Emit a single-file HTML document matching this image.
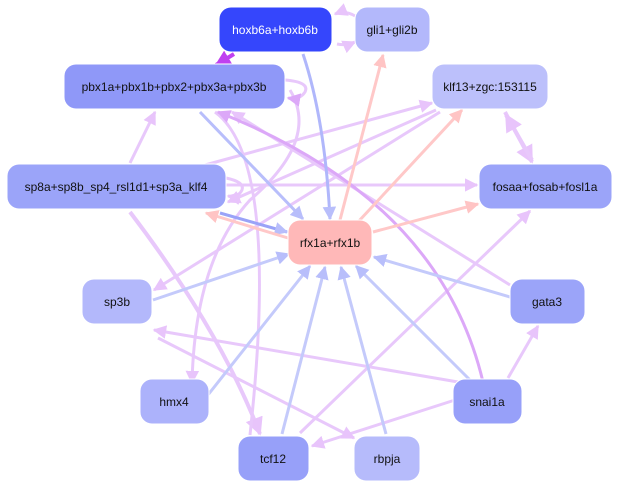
<!DOCTYPE html>
<html><head><meta charset="utf-8"><style>
html,body{margin:0;padding:0;background:#fff;width:619px;height:489px;overflow:hidden}
svg{display:block}
text{font-family:"Liberation Sans",sans-serif;font-size:12px;text-anchor:middle;dominant-baseline:central;fill:#111}
</style></head><body>
<svg width="619" height="489" viewBox="0 0 619 489" xmlns="http://www.w3.org/2000/svg">
<defs>
<marker id="al" viewBox="0 0 10 10" refX="9" refY="5" markerWidth="4.5" markerHeight="4.5" orient="auto"><path d="M0,0L10,5L0,10z" fill="#e8c4fb"/></marker>
<marker id="ab" viewBox="0 0 10 10" refX="9" refY="5" markerWidth="4.5" markerHeight="4.5" orient="auto"><path d="M0,0L10,5L0,10z" fill="#b8befb"/></marker>
<marker id="as" viewBox="0 0 10 10" refX="9" refY="5" markerWidth="4.5" markerHeight="4.5" orient="auto"><path d="M0,0L10,5L0,10z" fill="#ffc4c4"/></marker>
<marker id="ap" viewBox="0 0 10 10" refX="9" refY="5" markerWidth="4" markerHeight="4" orient="auto"><path d="M0,0L10,5L0,10z" fill="#c040f0"/></marker>
<marker id="am" viewBox="0 0 10 10" refX="9" refY="5" markerWidth="4.5" markerHeight="4.5" orient="auto"><path d="M0,0L10,5L0,10z" fill="#dca8f8"/></marker>
</defs>
<g fill="none" stroke-width="3">
<g stroke="#e8c8fb">
<path d="M355,16 Q345,10 335,14" marker-end="url(#al)"/>
<path d="M337,44 Q346,46 355,42" marker-end="url(#al)"/>
<path d="M130,163 L155,112" marker-end="url(#al)"/>
<path d="M205,165 L432,103" marker-end="url(#al)"/>
<path d="M226,185 L477,185" marker-end="url(#al)"/>
<path d="M226,178 Q245,182 242,190 Q238,198 228,196" marker-end="url(#al)"/>
<path d="M505,112 L532,162" stroke-width="4" marker-end="url(#al)"/>
<path d="M532,160 L506,115" stroke-width="4" marker-end="url(#al)"/>
<path d="M440,112 L154,290" marker-end="url(#al)"/>
<path d="M436,110 L228,202" marker-end="url(#al)"/>
<path d="M510,285 L232,112" marker-end="url(#al)"/>
<path d="M508,378 L538,326" marker-end="url(#al)"/>
<path d="M458,382 L154,330" marker-end="url(#al)"/>
<path d="M455,400 L312,446" marker-end="url(#al)"/>
<path d="M300,433 L530,211" marker-end="url(#al)"/>
<path d="M130,212 Q220,330 260,434" stroke-width="4" marker-end="url(#al)"/>
<path d="M158,338 Q260,390 354,438" marker-end="url(#al)"/>
<path d="M290,90 Q320,140 250,200 Q195,260 192,383" marker-end="url(#al)"/>
<path d="M215,112 Q280,160 250,435"/>
<path d="M285,80 Q310,82 305,92 Q300,100 288,98" marker-end="url(#am)"/>
</g>
<path d="M483,382 Q440,200 218,112" stroke="#dca8f8" marker-end="url(#am)"/>
<g stroke="#c4cafb">
<path d="M200,112 L303,219" stroke="#b8befb" marker-end="url(#ab)"/>
<path d="M303,54 Q325,120 330,219" stroke="#b0b7fb" marker-end="url(#ab)"/>
<path d="M153,300 L289,254" marker-end="url(#ab)"/>
<path d="M510,297 L374,257" marker-end="url(#ab)"/>
<path d="M470,380 L356,266" marker-end="url(#ab)"/>
<path d="M282,434 L325,267" marker-end="url(#ab)"/>
<path d="M386,434 L341,267" marker-end="url(#ab)"/>
<path d="M200,405 L310,266" marker-end="url(#ab)"/>
<path d="M220,213 L287,232" stroke="#9aa3f8" marker-end="url(#ab)"/>
</g>
<g stroke="#ffc8c8">
<path d="M340,220 L383,55" marker-end="url(#as)"/>
<path d="M358,222 L462,110" marker-end="url(#as)"/>
<path d="M373,232 L478,204" marker-end="url(#as)"/>
<path d="M288,238 L206,213" marker-end="url(#as)"/>
</g>
<path d="M234,54 L216,65" stroke="#c040f0" stroke-width="4" marker-end="url(#ap)"/>
</g>
<g stroke="#fff" stroke-width="1">
<rect x="219" y="7" width="113" height="45" rx="12" fill="#3546fc"/>
<rect x="355" y="7" width="75" height="45" rx="12" fill="#b3b8fb"/>
<rect x="64" y="64" width="221" height="45" rx="12" fill="#8f98f8"/>
<rect x="432" y="64" width="116" height="45" rx="12" fill="#bcc0fb"/>
<rect x="7" y="164" width="219" height="45" rx="12" fill="#9ba4f9"/>
<rect x="479" y="164" width="133" height="45" rx="12" fill="#9ba4f9"/>
<rect x="288" y="220" width="84" height="45" rx="12" fill="#ffb8b8"/>
<rect x="82" y="279" width="70" height="45" rx="12" fill="#b3b8fb"/>
<rect x="510" y="279" width="75" height="45" rx="12" fill="#9ba4f9"/>
<rect x="140" y="379" width="69" height="45" rx="12" fill="#acb2fb"/>
<rect x="453" y="379" width="69" height="45" rx="12" fill="#97a0f9"/>
<rect x="238" y="436" width="71" height="45" rx="12" fill="#97a0f9"/>
<rect x="354" y="436" width="66" height="45" rx="12" fill="#b6bbfb"/>
</g>
<text x="275" y="30" style="fill:#fff">hoxb6a+hoxb6b</text>
<text x="392" y="30">gli1+gli2b</text>
<text x="174" y="87">pbx1a+pbx1b+pbx2+pbx3a+pbx3b</text>
<text x="490" y="87">klf13+zgc:153115</text>
<text x="116" y="187">sp8a+sp8b_sp4_rsl1d1+sp3a_klf4</text>
<text x="545" y="187">fosaa+fosab+fosl1a</text>
<text x="330" y="243">rfx1a+rfx1b</text>
<text x="117" y="302">sp3b</text>
<text x="547" y="302">gata3</text>
<text x="174" y="402">hmx4</text>
<text x="487" y="402">snai1a</text>
<text x="273" y="459">tcf12</text>
<text x="387" y="459">rbpja</text>
</svg>
</body></html>
